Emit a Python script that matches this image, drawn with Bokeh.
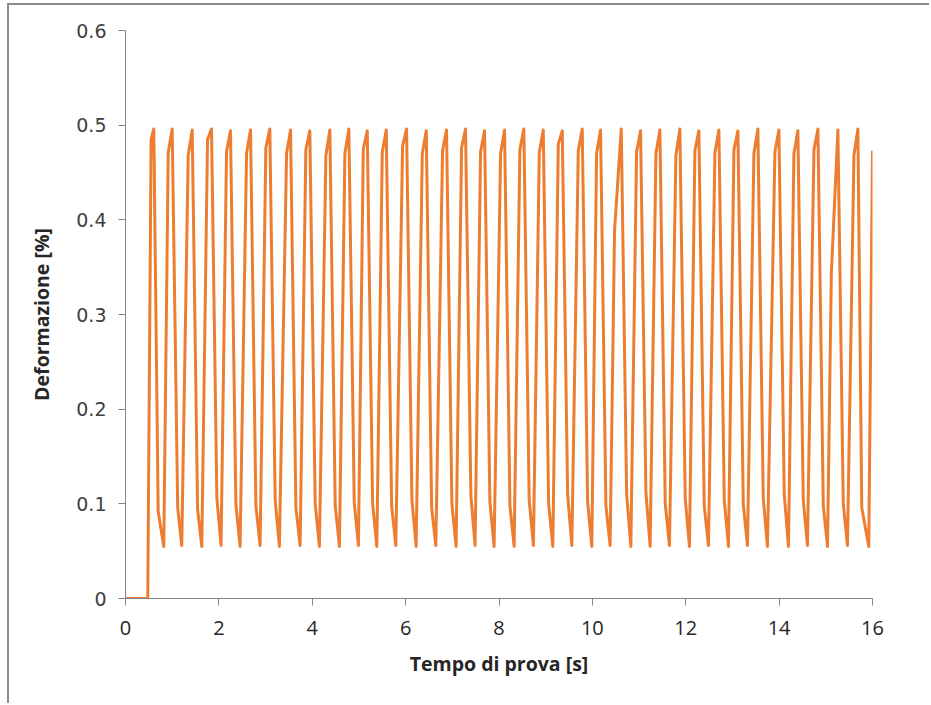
from bokeh.plotting import figure
from bokeh.models import Range1d, FixedTicker
from bokeh.embed import file_html
from bokeh.resources import INLINE

# ---------------- data ----------------
start_t = [0.0, 0.477]
start_y = [0.0, 0.0]

rise_t = [0.548, 0.915, 1.343, 1.757, 2.164, 2.593, 3.006, 3.450, 3.863, 4.292,
          4.699, 5.093, 5.500, 5.935, 6.357, 6.791, 7.198, 7.605, 8.034, 8.447,
          8.863, 9.270, 9.698, 10.090, 10.475, 10.947, 11.361, 11.789, 12.196, 12.625,
          13.032, 13.460, 13.910, 14.317, 14.746, 15.118, 15.602]
rise_y = [0.485, 0.471, 0.468, 0.485, 0.472, 0.470, 0.476, 0.470, 0.474, 0.468,
          0.470, 0.475, 0.472, 0.478, 0.470, 0.473, 0.476, 0.472, 0.470, 0.474,
          0.471, 0.480, 0.473, 0.470, 0.389, 0.472, 0.470, 0.468, 0.473, 0.471,
          0.474, 0.470, 0.472, 0.470, 0.474, 0.343, 0.468]

peak_t = [0.606, 1.000, 1.429, 1.842, 2.249, 2.678, 3.091, 3.535, 3.948, 4.377,
          4.784, 5.178, 5.585, 6.020, 6.442, 6.876, 7.283, 7.690, 8.119, 8.532,
          8.948, 9.355, 9.783, 10.175, 10.619, 11.032, 11.446, 11.874, 12.281, 12.710,
          13.117, 13.545, 13.995, 14.402, 14.831, 15.259, 15.687]
peak_y = [0.496, 0.496, 0.495, 0.496, 0.494, 0.495, 0.496, 0.495, 0.494, 0.495,
          0.496, 0.494, 0.495, 0.496, 0.494, 0.495, 0.496, 0.494, 0.495, 0.496,
          0.495, 0.494, 0.496, 0.495, 0.496, 0.494, 0.495, 0.496, 0.494, 0.495,
          0.494, 0.496, 0.495, 0.494, 0.496, 0.495, 0.496]

fall_t = [0.700, 1.118, 1.544, 1.957, 2.364, 2.793, 3.206, 3.650, 4.063, 4.492,
          4.899, 5.293, 5.700, 6.135, 6.557, 6.991, 7.398, 7.805, 8.234, 8.647,
          9.063, 9.470, 9.898, 10.290, 10.734, 11.147, 11.561, 11.989, 12.396, 12.825,
          13.232, 13.660, 14.110, 14.517, 14.946, 15.374, 15.770]
fall_y = [0.092, 0.096, 0.094, 0.106, 0.100, 0.098, 0.104, 0.096, 0.100, 0.098,
          0.102, 0.100, 0.098, 0.104, 0.096, 0.100, 0.108, 0.102, 0.098, 0.104,
          0.100, 0.110, 0.102, 0.098, 0.110, 0.112, 0.100, 0.106, 0.098, 0.104,
          0.100, 0.106, 0.110, 0.104, 0.098, 0.100, 0.096]

bottom_t = [0.820, 1.205, 1.634, 2.047, 2.454, 2.883, 3.296, 3.740, 4.153, 4.582,
            4.989, 5.383, 5.790, 6.225, 6.647, 7.081, 7.488, 7.895, 8.324, 8.737,
            9.153, 9.560, 9.988, 10.380, 10.824, 11.237, 11.651, 12.079, 12.486, 12.915,
            13.322, 13.750, 14.200, 14.607, 15.036, 15.464, 15.920]
bottom_y = [0.055, 0.056, 0.055, 0.056, 0.055, 0.056, 0.055, 0.056, 0.055, 0.055,
            0.056, 0.055, 0.056, 0.055, 0.056, 0.055, 0.056, 0.055, 0.055, 0.056,
            0.055, 0.056, 0.055, 0.056, 0.055, 0.055, 0.056, 0.055, 0.056, 0.055,
            0.056, 0.055, 0.055, 0.056, 0.055, 0.056, 0.055]

end_t = [16.0]
end_y = [0.473]

x_ticks = [0, 2, 4, 6, 8, 10, 12, 14, 16]
x_tick_labels = ["0", "2", "4", "6", "8", "10", "12", "14", "16"]
y_ticks = [0, 0.1, 0.2, 0.3, 0.4, 0.5, 0.6]
y_tick_labels = ["0", "0.1", "0.2", "0.3", "0.4", "0.5", "0.6"]

x_title = "Tempo di prova [s]"
y_title = "Deformazione [%]"

# ---------------- assemble series ----------------
xs = list(start_t)
ys = list(start_y)
for i in range(len(peak_t)):
    xs += [rise_t[i], peak_t[i], fall_t[i], bottom_t[i]]
    ys += [rise_y[i], peak_y[i], fall_y[i], bottom_y[i]]
xs += end_t
ys += end_y

# ---------------- figure ----------------
# outer chart-area border (left + top visible) drawn with CSS
p = figure(width=922, height=700, output_backend="svg", toolbar_location=None,
           x_range=Range1d(0, 16), y_range=Range1d(0, 0.6),
           min_border_left=116, min_border_right=59,
           min_border_top=25, min_border_bottom=107,
           styles={"margin-left": "7px", "margin-top": "3px",
                   "border-left": "2px solid #8c8c8c",
                   "border-top": "2px solid #8c8c8c"})
p.outline_line_color = None
p.grid.visible = False
p.background_fill_color = "white"
p.border_fill_color = "white"

p.line(xs, ys, line_color="#ED7D31", line_width=3, line_join="round")

axis_col = "#868686"
lab_col = "#262626"
for ax in (p.xaxis[0], p.yaxis[0]):
    ax.axis_line_color = axis_col
    ax.axis_line_width = 1
    ax.major_tick_line_color = axis_col
    ax.major_tick_in = 0
    ax.major_tick_out = 7
    ax.minor_tick_line_color = None
    ax.major_label_text_color = lab_col
    ax.axis_label_text_font = "Open Sans"
    ax.axis_label_text_font_style = "bold"
    ax.axis_label_text_font_size = "19.5px"
    ax.axis_label_text_color = lab_col

p.xaxis.major_label_text_font = "Open Sans"
p.xaxis.major_label_text_font_size = "20px"
p.yaxis.major_label_text_font = "DejaVu Sans"
p.yaxis.major_label_text_font_size = "19px"
p.yaxis.major_label_text_color = "#404040"

p.xaxis.ticker = FixedTicker(ticks=x_ticks)
p.yaxis.ticker = FixedTicker(ticks=y_ticks)
p.xaxis.major_label_overrides = dict(zip(x_ticks, x_tick_labels))
p.yaxis.major_label_overrides = dict(zip(y_ticks, y_tick_labels))
p.xaxis.axis_label = x_title
p.yaxis.axis_label = y_title
p.xaxis.major_label_standoff = 15
p.yaxis.major_label_standoff = 12
p.xaxis.axis_label_standoff = 12
p.yaxis.axis_label_standoff = 18

open("out.html", "w").write(file_html(p, INLINE))
